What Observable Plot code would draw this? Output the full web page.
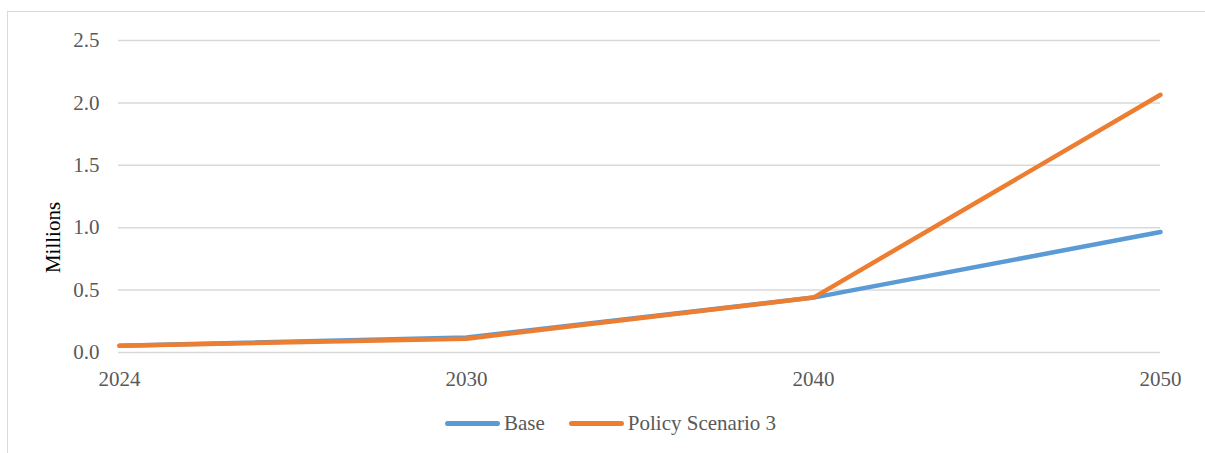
<!DOCTYPE html>
<html>
<head>
<meta charset="utf-8">
<script src="https://cdn.jsdelivr.net/npm/d3@7"></script>
<script src="https://cdn.jsdelivr.net/npm/@observablehq/plot@0.6"></script>
<style>
  html, body { margin: 0; padding: 0; background: #fff; }
  #wrap { position: relative; width: 1205px; height: 453px; overflow: hidden; font-family: "Liberation Serif", Tinos, "Times New Roman", Times, serif; }
  #frame { position: absolute; left: 7px; top: 11px; width: 1400px; height: 600px; border: 1.5px solid #d9d9d9; box-sizing: border-box; }
  #chart { position: absolute; left: 0; top: 0; }
  #chart svg, #chart text { font-family: "Liberation Serif", Tinos, "Times New Roman", Times, serif; }
  #legend { position: absolute; left: 445px; top: 411px; display: flex; align-items: center; font-size: 21px; color: #595959; white-space: nowrap; }
  .item { display: flex; align-items: center; margin-right: 24px; }
  .swatch { width: 55px; height: 5px; border-radius: 3px; margin-right: 4px; }
</style>
</head>
<body>
<div id="wrap">
  <div id="frame"></div>
  <div id="chart"></div>
  <div id="legend"></div>
</div>
<script>
// Projection years (category axis) and series values, in millions
const years = ["2024", "2030", "2040", "2050"];
const baseValues = [0.055, 0.12, 0.44, 0.965];
const policyValues = [0.055, 0.11, 0.44, 2.065];
const yTicks = [0, 0.5, 1.0, 1.5, 2.0, 2.5];

const seriesNames = ["Base", "Policy Scenario 3"];
const seriesColors = ["#5b9bd5", "#ed7d31"];

const rows = [
  ...years.map((year, i) => ({year, value: baseValues[i], series: seriesNames[0]})),
  ...years.map((year, i) => ({year, value: policyValues[i], series: seriesNames[1]}))
];

const textColor = "#595959";

const chart = Plot.plot({
  width: 1205,
  height: 400,
  marginLeft: 118,
  marginRight: 45,
  marginTop: 40,
  marginBottom: 48,
  style: {fontSize: "21px", color: textColor, background: "transparent"},
  x: {type: "point", domain: years, padding: 0, label: null},
  y: {domain: [0, 2.5], ticks: yTicks, label: null},
  color: {domain: seriesNames, range: seriesColors},
  marks: [
    Plot.ruleY(yTicks, {stroke: "#d9d9d9", strokeWidth: 1.5}),
    Plot.axisY({ticks: yTicks, tickSize: 0, tickPadding: 19, tickFormat: d3.format(".1f"), fill: textColor, label: null}),
    Plot.axisX({tickSize: 0, tickPadding: 19, fill: textColor, label: null}),
    Plot.text(["Millions"], {frameAnchor: "left", textAnchor: "middle", dx: 53 - 118, dy: 41, rotate: -90, fill: "#000", fontSize: 21}),
    Plot.line(rows, {x: "year", y: "value", stroke: "series", z: "series", strokeWidth: 4.5, strokeLinecap: "round", strokeLinejoin: "round"})
  ]
});
document.getElementById("chart").appendChild(chart);

const legend = document.getElementById("legend");
seriesNames.forEach((name, i) => {
  const item = document.createElement("div");
  item.className = "item";
  const sw = document.createElement("span");
  sw.className = "swatch";
  sw.style.background = seriesColors[i];
  const label = document.createElement("span");
  label.textContent = name;
  item.appendChild(sw);
  item.appendChild(label);
  legend.appendChild(item);
});
</script>
</body>
</html>
